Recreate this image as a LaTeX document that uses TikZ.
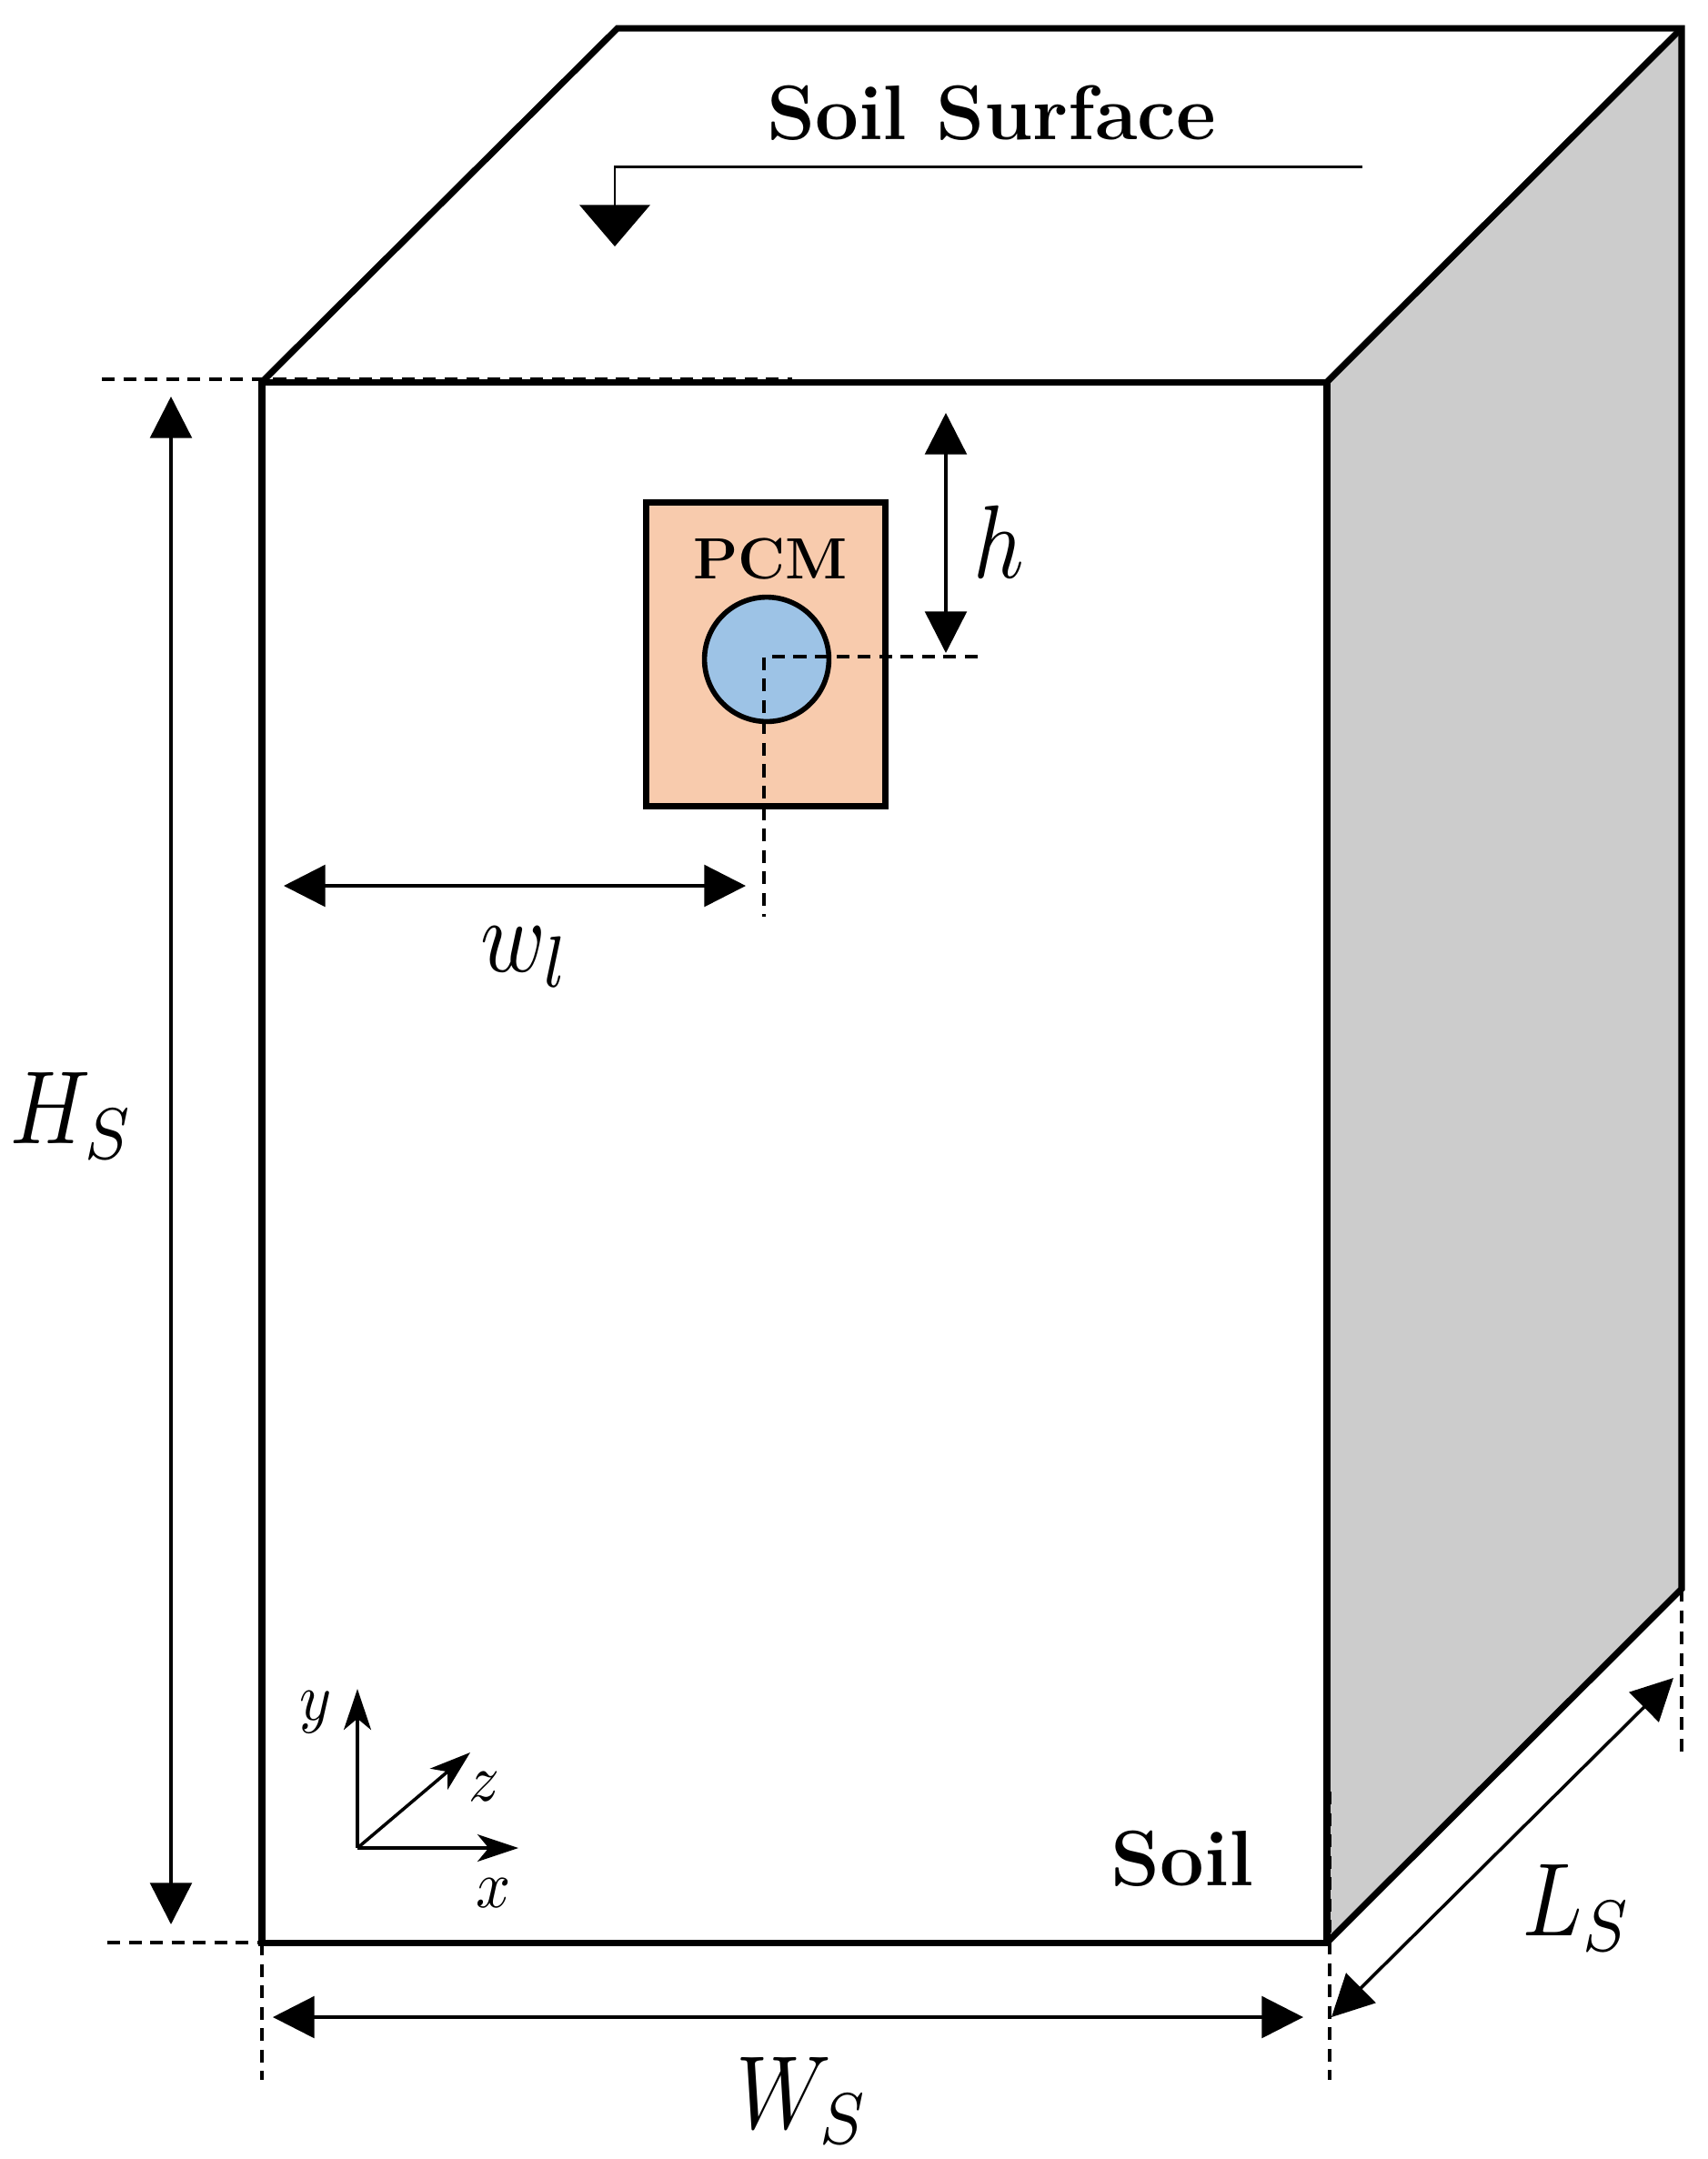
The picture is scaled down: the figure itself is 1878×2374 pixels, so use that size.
\documentclass[tikz,border=0pt]{standalone}
\usepackage{amsmath}
\usepackage{tikz}
\usetikzlibrary{arrows.meta}

\definecolor{sidegray}{HTML}{CCCCCC}
\definecolor{pcmfill}{HTML}{F8CBAD}
\definecolor{pipefill}{HTML}{9DC3E6}

\tikzset{
  bighead/.tip={Triangle[length=13pt,width=13pt]},
  widehead/.tip={Triangle[length=13pt,width=22pt]},
  axishead/.tip={Stealth[length=12.8pt,width=8.5pt,inset=3.5pt]},
  wall/.style={line width=2pt,line join=miter},
  dim/.style={line width=1pt},
  guide/.style={line width=1pt,dash pattern=on 4pt off 2.7pt},
  biglabel/.style={inner sep=0pt,xscale=2.75,yscale=3.25},
  axislabel/.style={inner sep=0pt,xscale=1.9,yscale=2.1},
}

\begin{document}
\begin{tikzpicture}[x=0.01cm,y=-0.01cm]
   \path[use as bounding box] (0,0) rectangle (1878,2374);

   % box corners
   \coordinate (FTL) at (288,420);
   \coordinate (FTR) at (1459,420);
   \coordinate (FBL) at (288,2136);
   \coordinate (FBR) at (1459,2136);
   \coordinate (BTL) at (679,31);
   \coordinate (BTR) at (1849,31);
   \coordinate (BBR) at (1849,1747);
   \fill[sidegray] (FTR) -- (BTR) -- (BBR) -- (FBR) -- cycle;
   \draw[wall] (FTL) -- (FTR) -- (FBR) -- (FBL) -- cycle;
   \draw[wall] (FTL) -- (BTL) -- (BTR) -- (BBR) -- (FBR);
   \draw[wall] (FTR) -- (BTR);

   % pcm and pipe
   \node[draw,wall,fill=pcmfill,minimum width=75pt,minimum height=94.8pt,inner sep=0pt] (PCMbox) at (842,719.5) {};
   \node[draw,line width=1.6pt,fill=pipefill,circle,minimum size=38.9pt,inner sep=0pt] (pipe) at (843,725) {};
   \node[inner sep=0pt,font=\bfseries\fontsize{18.2}{22}\selectfont] (PCM) at (847,615) {PCM};

   % guide lines
   \coordinate (TLa) at (112,417);
   \coordinate (TLb) at (871,417);
   \coordinate (BLa) at (118,2136);
   \coordinate (BLb) at (288,2136);
   \coordinate (BLc) at (288,2287);
   \coordinate (BRa) at (1462,1970);
   \coordinate (BRb) at (1462,2287);
   \coordinate (BKa) at (1849,1747);
   \coordinate (BKb) at (1849,1930);
   \coordinate (Hend) at (1075,722);
   \coordinate (Cen) at (840,722);
   \coordinate (Vend) at (840,1008);
   \draw[guide] (TLa) -- (TLb);
   \draw[guide] (BLa) -- (BLb);
   \draw[guide] (BLb) -- (BLc);
   \draw[guide] (BRa) -- (BRb);
   \draw[guide] (BKa) -- (BKb);
   \draw[guide] (Hend) -- (Cen) -- (Vend);

   % dimensions
   \coordinate (HSa) at (188,436);
   \coordinate (HSb) at (188,2116);
   \coordinate (WSa) at (300,2218);
   \coordinate (WSb) at (1433,2218);
   \coordinate (LSa) at (1464,2218);
   \coordinate (LSb) at (1840,1845);
   \coordinate (WLa) at (312,974);
   \coordinate (WLb) at (820,974);
   \coordinate (Ha) at (1040,454);
   \coordinate (Hb) at (1040,718);
   \path[dim,<->,>=bighead] (HSa) edge (HSb);
   \path[dim,<->,>=bighead] (WSa) edge (WSb);
   \path[dim,<->,>=bighead] (LSa) edge (LSb);
   \path[dim,<->,>=bighead] (WLa) edge (WLb);
   \path[dim,<->,>=bighead] (Ha) edge (Hb);
   \node[biglabel] (HSlabel) at (80,1227) {$H_S$};
   \node[biglabel] (WSlabel) at (883,2310) {$W_S$};
   \node[biglabel] (LSlabel) at (1735,2098) {$L_S$};
   \node[biglabel] (WLlabel) at (578,1052) {$w_l$};
   \node[biglabel] (Hlabel) at (1098,596) {$h$};

   % soil surface
   \node[inner sep=0pt,font=\bfseries\fontsize{24.2}{29}\selectfont] (surface) at (1090,124) {Soil Surface};
   \node[inner sep=0pt,font=\bfseries\fontsize{24.6}{30}\selectfont] (soil) at (1300,2044) {Soil};
   \coordinate (Sa) at (1498,183);
   \coordinate (Sb) at (676,183);
   \coordinate (Sc) at (676,271);
   \draw[line width=0.85pt,-{widehead}] (Sa) -- (Sb) -- (Sc);

   % axes
   \coordinate (O) at (393,2032);
   \coordinate (Xtip) at (570,2032);
   \coordinate (Ytip) at (393,1857);
   \coordinate (Ztip) at (517,1927);
   \path[dim,->,>=axishead] (O) edge (Xtip);
   \path[dim,->,>=axishead] (O) edge (Ytip);
   \path[dim,->,>=axishead] (O) edge (Ztip);
   \node[axislabel] (xlabel) at (543,2082) {$x$};
   \node[axislabel] (ylabel) at (347,1883) {$y$};
   \node[axislabel] (zlabel) at (533,1965) {$z$};
\end{tikzpicture}
\end{document}
